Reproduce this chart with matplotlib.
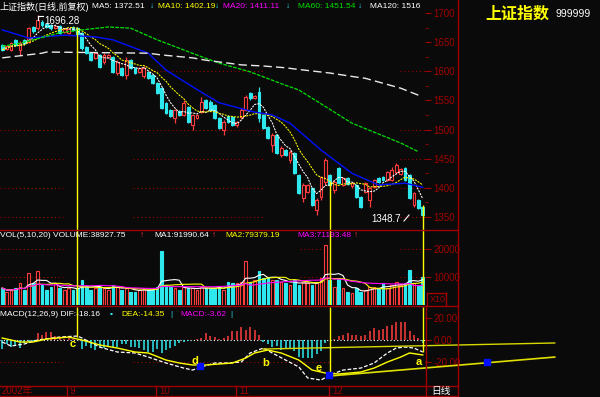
import matplotlib
matplotlib.use('Agg')
import matplotlib.pyplot as plt
from matplotlib.lines import Line2D
from matplotlib.patches import Rectangle
import pandas as pd

plt.rcParams['font.family'] = ['Liberation Sans', 'Noto Sans CJK SC', 'DejaVu Sans']

# daily candles, Aug 2002 - Dec 2002
opens = [1645, 1638, 1637, 1654, 1637, 1654, 1650, 1676, 1674, 1685,
         1681, 1679, 1674, 1678, 1667, 1666, 1676, 1674, 1666, 1642,
         1631, 1623, 1628, 1616, 1625, 1625, 1597, 1606, 1594, 1619,
         1606, 1599, 1592, 1599, 1594, 1580, 1571, 1546, 1534, 1520,
         1532, 1525, 1539, 1508, 1520, 1530, 1551, 1547, 1542, 1520,
         1499, 1523, 1522, 1508, 1522, 1534, 1563, 1554, 1564, 1525,
         1504, 1474, 1491, 1456, 1465, 1448, 1460, 1422, 1383, 1393,
         1400, 1362, 1384, 1410, 1422, 1396, 1434, 1405, 1417, 1403,
         1405, 1384, 1393, 1379, 1401, 1417, 1419, 1413, 1413, 1427,
         1424, 1434, 1422, 1371, 1379, 1367]
closes = [1637, 1643, 1649, 1645, 1649, 1649, 1674, 1669, 1688, 1679,
          1676, 1674, 1678, 1666, 1673, 1673, 1671, 1664, 1640, 1631,
          1619, 1631, 1607, 1628, 1628, 1599, 1616, 1594, 1619, 1606,
          1597, 1606, 1606, 1588, 1580, 1563, 1537, 1528, 1523, 1534,
          1525, 1546, 1513, 1525, 1525, 1547, 1537, 1534, 1520, 1503,
          1513, 1513, 1508, 1513, 1534, 1556, 1554, 1558, 1520, 1503,
          1486, 1491, 1460, 1468, 1456, 1462, 1425, 1391, 1405, 1405,
          1371, 1379, 1419, 1448, 1405, 1410, 1408, 1417, 1407, 1408,
          1384, 1367, 1408, 1400, 1413, 1410, 1413, 1427, 1431, 1439,
          1432, 1413, 1383, 1391, 1365, 1353]
highs = [1647, 1645, 1650, 1655, 1652, 1655, 1676, 1678, 1696.28, 1688,
         1683, 1681, 1679, 1679, 1674, 1674, 1678, 1676, 1667, 1643,
         1633, 1633, 1630, 1631, 1630, 1626, 1619, 1607, 1625, 1621,
         1607, 1607, 1609, 1600, 1595, 1582, 1573, 1547, 1535, 1535,
         1534, 1551, 1540, 1527, 1527, 1556, 1552, 1551, 1544, 1522,
         1516, 1525, 1523, 1515, 1537, 1559, 1564, 1559, 1573, 1527,
         1506, 1494, 1492, 1472, 1467, 1465, 1462, 1424, 1408, 1407,
         1401, 1383, 1420, 1451, 1424, 1413, 1436, 1419, 1419, 1410,
         1407, 1386, 1410, 1401, 1415, 1419, 1420, 1429, 1436, 1443,
         1434, 1436, 1424, 1393, 1381, 1369]
lows = [1635, 1637, 1635, 1643, 1628, 1645, 1649, 1666, 1671, 1676,
        1674, 1671, 1673, 1664, 1666, 1664, 1669, 1662, 1637, 1630,
        1618, 1621, 1606, 1612, 1623, 1597, 1594, 1592, 1587, 1604,
        1595, 1597, 1588, 1587, 1578, 1561, 1535, 1527, 1522, 1511,
        1523, 1523, 1511, 1499, 1518, 1528, 1535, 1532, 1518, 1501,
        1491, 1511, 1506, 1504, 1518, 1532, 1551, 1552, 1513, 1501,
        1484, 1462, 1458, 1453, 1455, 1443, 1424, 1389, 1376, 1391,
        1369, 1353, 1379, 1405, 1403, 1391, 1407, 1403, 1405, 1400,
        1383, 1365, 1391, 1367, 1400, 1408, 1412, 1412, 1412, 1424,
        1422, 1412, 1381, 1367, 1364, 1348.7]
volumes = [6071, 4643, 5357, 6071, 7857, 5357, 11429, 7857, 12143, 7143,
           5357, 6429, 7857, 6071, 5357, 6071, 5357, 6071, 8929, 6429,
           5357, 6071, 6429, 6071, 5357, 7143, 6429, 5357, 6071, 4643,
           4643, 5357, 6071, 5357, 5357, 6429, 19286, 7143, 6429, 6071,
           5357, 6429, 6071, 6071, 5357, 6429, 6071, 6071, 6071, 6429,
           5357, 8214, 7857, 7857, 8214, 15714, 8214, 8929, 12143, 9643,
           10000, 8929, 8929, 8214, 7857, 7143, 8929, 7143, 8214, 7857,
           7143, 8214, 9643, 21429, 8929, 6429, 9643, 6071, 4643, 4286,
           6071, 4643, 5357, 6429, 6429, 6071, 7857, 6071, 7143, 8214,
           7143, 7857, 12500, 7857, 7143, 10000]
macd_hist = [-8, -4, -6, -5, -7, -3, -2, -1, 6, 5,
             7, 7, 4, 2, 1, 2, 1, 0, -8, -5,
             -7, -9, -6, -7, -6, -6, -6, -4, -4, -6,
             -6, -7, -9, -11, -11, -8, -12, -9, -7, -5,
             -3, -2, -1, 0, 1, 2, 6, 4, 3, 1,
             2, 4, 8, 8, 12, 9, 12, 9, 5, -2,
             -4, -6, -5, -9, -8, -7, -10, -15, -16, -16,
             -16, -13, -10, -3, 0, 1, 4, 5, 6, 5,
             5, 4, 5, 8, 11, 9, 10, 13, 14, 16,
             16, 16, 8, 5, 2, -3]

# long moving averages (candle index, value)
ma20_idx = [0, 6, 14, 21, 25, 33, 37, 45, 49, 57, 61, 65, 72, 79, 85, 91, 95]
ma20_val = [1671, 1657, 1662, 1659, 1654, 1631, 1602, 1564, 1546, 1530, 1525, 1511, 1465, 1425, 1405, 1408, 1401]
ma60_idx = [0, 4, 8, 13, 18, 24, 29, 35, 45, 49, 56, 64, 67, 79, 90, 94]
ma60_val = [1643, 1648, 1656, 1666, 1671, 1676, 1674, 1654, 1625, 1614, 1599, 1576, 1568, 1511, 1477, 1462]
ma120_idx = [0, 9, 10, 33, 36, 43, 46, 54, 59, 64, 66, 74, 80, 82, 90, 94]
ma120_val = [1623, 1631, 1633, 1631, 1628, 1623, 1619, 1611, 1609, 1606, 1604, 1597, 1590, 1588, 1571, 1559]

dif_idx = [0, 2, 5, 8, 13, 17, 18, 22, 26, 30, 33, 37, 41, 43, 45, 48, 51, 54, 56, 59,
           61, 64, 67, 69, 72, 74, 77, 81, 84, 87, 89, 91, 93, 95]
dif_val = [-1.8, -5.5, -3.6, 0, 2.7, 3.6, 1.8, -6.4, -10.9, -11.8, -15.5, -20.9, -25.5, -27.3,
           -24.5, -20.9, -20.9, -20.0, -11.8, -7.3, -11.8, -18.2, -24.5, -34.5, -36.4, -31.8,
           -27.3, -25.5, -20.9, -11.8, -7.3, -6.4, -7.3, -10.9]
dea_idx = [0, 4, 7, 10, 15, 18, 22, 26, 30, 33, 37, 40, 43, 46, 52, 55, 57, 60, 63, 67,
           70, 73, 76, 81, 84, 87, 90, 92, 95]
dea_val = [1.8, -1.8, -1.8, 0.9, 2.7, 0, -4.5, -7.3, -10.9, -11.8, -18.2, -20.9, -22.7, -22.7,
           -20.9, -16.4, -11.8, -9.1, -11.8, -18.2, -27.3, -30.0, -30.9, -29.1, -25.5, -20.0,
           -15.5, -11.8, -13.6]

# hand drawn marks on the MACD panel
trend1_idx, trend1_val = [58.9, 124.8], [-8.2, -2.7]
trend2_idx, trend2_val = [74, 124.8], [-32.7, -15.5]
box_idx, box_val = [44.7, 73.8, 109.4], [-23.6, -31.8, -20.0]
letters = ['c', 'd', 'b', 'e', 'a']
letter_idx = [16, 43.5, 59.5, 71.5, 94]
letter_val = [-3.6, -19.0, -21.0, -25.5, -20.0]
marker_idx = [17, 74, 95]
marker_top = [1674, 1410, 1371]
marker_macd = [2.7, -31.8, -10.9]

price_ticks = [1350, 1400, 1450, 1500, 1550, 1600, 1650, 1700]
price_grid = [1350, 1400, 1450, 1500, 1600]
month_labels = ['2002年', '9', '10', '11', '12']

W, H = 600, 397
BG = '#0a0a0a'
FRAME = '#a00000'
UP = '#ff3c3c'
DOWN = '#2ee8ee'
YEL = '#ffff00'
MAG = '#ff00ff'
GRN = '#00e000'

fig = plt.figure(figsize=(6, 3.97), dpi=100, facecolor=BG)


def ax_px(x0, y0, x1, y1):
    a = fig.add_axes([x0 / W, 1 - y1 / H, (x1 - x0) / W, (y1 - y0) / H])
    a.set_facecolor(BG)
    for s in a.spines.values():
        s.set_visible(False)
    a.set_xticks([])
    a.set_xlim(-0.5, 95.5)
    a.yaxis.tick_right()
    a.tick_params(axis='y', colors=FRAME, labelcolor=FRAME, labelsize=7,
                  length=4, width=0.8, pad=2)
    return a


def px_line(x0, y0, x1, y1, color=FRAME, lw=1.0):
    fig.add_artist(Line2D([x0 / W, x1 / W], [1 - y0 / H, 1 - y1 / H],
                          transform=fig.transFigure, color=color, lw=lw))


def ftxt(x, y, s, color, size=6, ha='left', **kw):
    fig.text(x / W, 1 - y / H, s, color=color, fontsize=size, ha=ha, va='center', **kw)


def idx(px):
    return px / 425 * 96 - 0.5


def grid(a, v, segs, color=FRAME):
    for x0, x1 in segs:
        a.plot([idx(x0), idx(x1)], [v, v], color=color, lw=0.8, ls=(0, (1, 2.5)), zorder=0)


segs = [(0, 63), (133, 263), (400, 425)]
n = len(closes)
xs = list(range(n))

# ---- price panel
ax_k = ax_px(0, 11, 425, 230)
ax_k.set_ylim(1327.7, 1703.4)
ax_k.set_yticks(price_ticks)
ax_k.set_yticklabels([str(p) for p in price_ticks])
ax_k.set_yticks([1375, 1425, 1475, 1525, 1575, 1625, 1675], minor=True)
ax_k.tick_params(axis='y', which='minor', colors=FRAME, length=2)
for p in price_grid:
    grid(ax_k, p, segs)

for i in xs:
    o, c, h, l = opens[i], closes[i], highs[i], lows[i]
    col = UP if c >= o else DOWN
    ax_k.vlines(i, l, h, color=col, lw=0.9, zorder=2)
    bot, ht = min(o, c), max(abs(c - o), 1.2)
    face = BG if c >= o else DOWN
    ax_k.add_patch(Rectangle((i - 0.32, bot), 0.64, ht, facecolor=face,
                             edgecolor=col, lw=0.8, zorder=3))

cl = pd.Series(closes, dtype=float)
ax_k.plot(xs, cl.rolling(5, min_periods=1).mean(), color='white', lw=0.75,
          ls=(0, (2, 1)), zorder=4)
ax_k.plot(xs, cl.rolling(10, min_periods=1).mean(), color=YEL, lw=0.75,
          ls=(0, (2, 1)), zorder=4)
ax_k.plot(ma20_idx, ma20_val, color='#0010ff', lw=1.0, zorder=4)
ax_k.plot(ma60_idx, ma60_val, color=GRN, lw=0.9, ls=(0, (3, 1)), zorder=4)
ax_k.plot(ma120_idx, ma120_val, color='#e8e8e8', lw=1.0, ls=(0, (6, 3)), zorder=4)

for i, top in zip(marker_idx, marker_top):
    ax_k.vlines(i, 1327.7, top, color=YEL, lw=1.0, zorder=5)

# ---- volume panel
ax_v = ax_px(0, 230, 425, 305)
ax_v.set_ylim(0, 26786)
ax_v.set_yticks([10000, 20000])
ax_v.set_yticklabels(['10000', '20000'])
for v in [10000, 20000]:
    grid(ax_v, v, [(0, 63), (300, 323), (400, 425)])
for i in xs:
    up = closes[i] >= opens[i]
    ax_v.add_patch(Rectangle((i - 0.3, 0), 0.6, volumes[i],
                             facecolor=BG if up else DOWN,
                             edgecolor=UP if up else DOWN, lw=0.8, zorder=2))
vol = pd.Series(volumes, dtype=float)
ax_v.plot(xs, vol.rolling(5, min_periods=1).mean(), color='white', lw=0.8, zorder=3)
ax_v.plot(xs, vol.rolling(10, min_periods=1).mean(), color=YEL, lw=0.8, zorder=3)
ax_v.plot(xs, vol.rolling(20, min_periods=1).mean(), color=MAG, lw=0.8, zorder=3)
for i in marker_idx:
    ax_v.axvline(i, color=YEL, lw=1.0, zorder=5)

# ---- MACD panel
ax_m = ax_px(0, 307, 425, 386)
ax_m.set_ylim(-41.8, 30)
ax_m.set_yticks([20, 0, -20])
ax_m.set_yticklabels(['20.00', '0.00', '-20.00'])
ax_m.axhline(0, color='white', lw=0.8, ls=(0, (1, 2)), zorder=1)
grid(ax_m, -20, [(0, 63), (133, 330)])
for i in xs:
    h = macd_hist[i]
    if h != 0:
        ax_m.vlines(i, 0, h, color=UP if h > 0 else DOWN, lw=1.1, zorder=2)
ax_m.plot(dif_idx, dif_val, color='white', lw=0.9, ls=(0, (3, 1.5)), zorder=3)
ax_m.plot(dea_idx, dea_val, color=YEL, lw=1.0, zorder=3)
for i, b in zip(marker_idx, marker_macd):
    ax_m.vlines(i, b, 30, color=YEL, lw=1.0, zorder=5)
ax_m.plot(trend1_idx, trend1_val, color='#d8d800', lw=1.0, clip_on=False, zorder=4)
ax_m.plot(trend2_idx, trend2_val, color='#e0e000', lw=1.2, clip_on=False, zorder=4)
ax_m.scatter(box_idx, box_val, marker='s', s=22, color='#0010ff', clip_on=False, zorder=6)
for t, i, v in zip(letters, letter_idx, letter_val):
    ax_m.text(i, v, t, color=YEL, fontsize=8, weight='bold', ha='center', va='center',
              clip_on=False, zorder=7)

# ---- frames
for y in [230, 306, 386, 396]:
    px_line(0, y, 458, y)
px_line(458, 0, 458, 397)
px_line(426, 306, 426, 397)
for x in [67, 156, 236, 329]:
    px_line(x, 386, x, 396)
px_line(427, 293, 446, 293)
px_line(446, 293, 446, 305)
px_line(427, 293, 427, 305)

# ---- texts
ftxt(0, 7, '上证指数(日线,前复权)', 'white', size=6.5)
ftxt(92, 7, 'MA5: 1372.51', 'white')
ftxt(150, 7, '↓', DOWN)
ftxt(158, 7, 'MA10: 1402.19', YEL)
ftxt(215, 7, '↓', DOWN)
ftxt(223, 7, 'MA20: 1411.11', MAG)
ftxt(286, 7, '↓', DOWN)
ftxt(298, 7, 'MA60: 1451.54', GRN)
ftxt(358, 7, '↓', DOWN)
ftxt(370, 7, 'MA120: 1516', 'white')

ftxt(0, 236, 'VOL(5,10,20) VOLUME:38927.75', 'white')
ftxt(140, 236, '↑', UP)
ftxt(154, 236, 'MA1:91990.64', 'white')
ftxt(212, 236, '↑', UP)
ftxt(225, 236, 'MA2:79379.19', YEL)
ftxt(297, 236, 'MA3:71193.48', MAG)
ftxt(354, 236, '↑', UP)
ftxt(430, 299, 'X10', FRAME, size=6.5)

ftxt(0, 314, 'MACD(12,26,9) DIF:-18.16', 'white')
ftxt(110, 314, '▪', DOWN)
ftxt(121, 314, 'DEA:-14.35', YEL)
ftxt(170, 314, '|', DOWN)
ftxt(180, 314, 'MACD:-3.62', MAG)
ftxt(230, 314, '|', DOWN)

for s, x in zip(month_labels, [2, 69, 159, 239, 332]):
    ftxt(x, 391, s, FRAME, size=7)
ftxt(431, 391, '日线', 'white', size=7)

ftxt(44, 21, '1696.28', 'white', size=7)
px_line(38, 16, 43, 16, color='white', lw=0.8)
px_line(38, 16, 38, 20, color='white', lw=0.8)
ftxt(401, 219, '1348.7', 'white', size=7, ha='right')
px_line(404, 221, 409, 215, color='white', lw=0.8)

ftxt(485, 14, '上证指数', YEL, size=11.5, weight='bold')
ftxt(556, 14, '999999', 'white', size=7.5)

fig.savefig('out.png', dpi=100, facecolor=BG)
